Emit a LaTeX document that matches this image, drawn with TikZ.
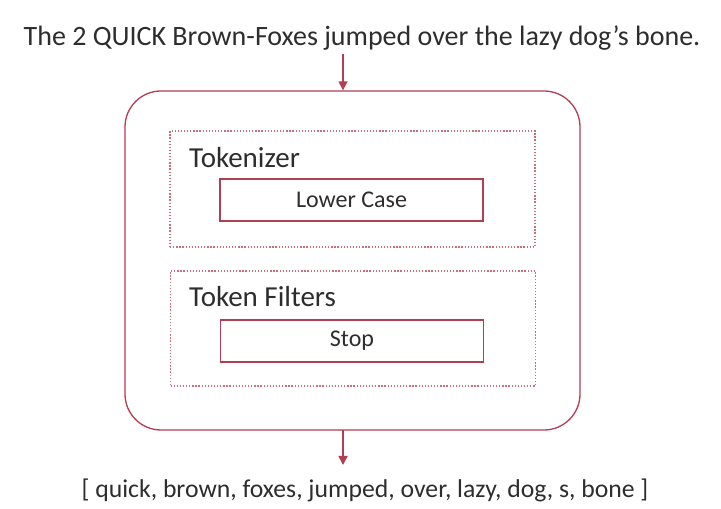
\documentclass[tikz,border=0pt]{standalone}
\usepackage{fontspec}
\setmainfont{Carlito}
\usetikzlibrary{arrows.meta}
\definecolor{wine}{RGB}{178,62,82}
\definecolor{rose}{RGB}{200,110,125}
\definecolor{ink}{RGB}{45,45,45}
\tikzset{
  box/.style={draw=wine,line width=1.2pt,minimum width=263pt,minimum height=42pt,
    text=ink,font=\fontsize{24}{24}\selectfont},
  group/.style={draw=rose,line width=1.3pt,dash pattern=on 1.3pt off 1.8pt,minimum width=365pt},
  title/.style={text=ink,anchor=west,font=\fontsize{29}{29}\selectfont,inner sep=0pt},
  flow/.style={draw=wine,line width=1.5pt,-{Triangle[width=9pt,length=9pt]}}
}

\begin{document}
\begin{tikzpicture}[x=1pt,y=1pt]
    \useasboundingbox (0,0) rectangle (721,509);

    \node[text=ink,font=\fontsize{28}{28}\selectfont] (input) at (362,471)
      {The 2 QUICK Brown-Foxes jumped over the lazy dog's bone.};
    \node[draw=wine,line width=1.3pt,rounded corners=36pt,minimum width=455pt,
      minimum height=339pt] (outer) at (352.5,248.5) {};

    \node[group,minimum height=116pt] (tok) at (352.5,320) {};
    \node[title] (toklabel) at (189,351) {Tokenizer};
    \node[box] (lower) at (351.5,309) {Lower Case};

    \node[group,minimum height=115pt] (filt) at (353,180.5) {};
    \node[title] (filtlabel) at (189,212) {Token Filters};
    \node[box] (stop) at (352,168) {Stop};

    \node[text=ink,font=\fontsize{25.7}{26}\selectfont] (output) at (365,19)
      {[ quick, brown, foxes, jumped, over, lazy, dog, s, bone ]};

    \coordinate (in) at (343,455);
    \coordinate (out) at (343,79);
    \draw[flow] (in) -- (in |- outer.north);
    \draw[flow] (out) -- (out |- 0,44);
\end{tikzpicture}
\end{document}
